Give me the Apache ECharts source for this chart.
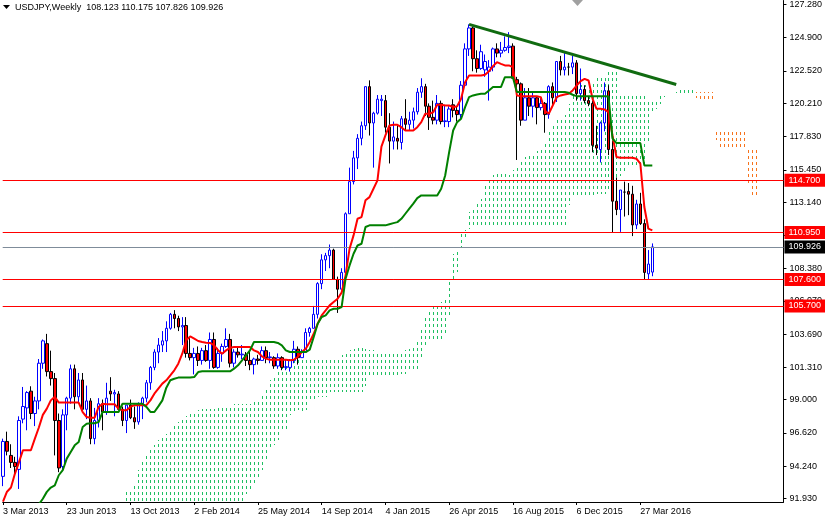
<!DOCTYPE html>
<html><head><meta charset="utf-8">
<script src="https://cdn.jsdelivr.net/npm/echarts@6/dist/echarts.min.js"></script>
<style>html,body{margin:0;padding:0;background:#fff}#c{width:825px;height:519px}</style>
</head><body><div id="c"></div><script>
const symbolTitle = 'USDJPY,Weekly  108.123 110.175 107.826 109.926';
const xTickIdx = [0, 16, 32, 48, 64, 80, 96, 112, 128, 144, 160];
const xTickLabels = ['3 Mar 2013', '23 Jun 2013', '13 Oct 2013', '2 Feb 2014', '25 May 2014', '14 Sep 2014', '4 Jan 2015', '26 Apr 2015', '16 Aug 2015', '6 Dec 2015', '27 Mar 2016'];
const yTicks = [91.93, 94.24, 96.62, 99.00, 101.31, 103.69, 106.07, 108.38, 110.76, 113.14, 115.45, 117.83, 120.21, 122.52, 124.90, 127.28];

// weekly candles, index 0 = week of 3 Mar 2013
const opens = [93.5,96.0,95.0,94.5,94.0,97.6,98.4,99.6,98.0,98.9,
101.6,103.0,101.0,100.5,97.5,94.2,97.9,99.1,101.2,99.2,
100.4,98.3,98.9,96.2,97.5,98.7,98.1,99.6,99.4,99.4,
98.3,97.5,98.6,97.7,97.4,98.7,99.1,100.2,101.3,102.4,
102.9,103.2,104.1,105.1,104.8,104.2,104.3,102.3,102.0,102.3,
101.8,102.5,101.8,103.3,101.3,102.3,102.8,103.3,101.6,102.4,
102.2,102.2,101.8,101.5,101.9,101.8,102.5,102.0,102.0,101.4,
102.0,101.3,101.3,101.8,102.6,102.0,102.4,103.8,104.1,105.1,
107.3,109.0,109.3,109.7,107.6,106.9,108.1,112.3,114.6,116.3,
117.7,118.6,121.4,118.8,119.5,120.4,120.4,118.5,117.5,117.7,
117.4,119.1,118.7,119.0,119.6,121.0,121.4,120.0,119.2,119.0,
120.2,118.9,118.9,120.1,119.7,119.4,121.5,124.1,125.6,123.4,
122.7,122.6,122.5,122.8,124.1,123.8,124.0,124.2,124.3,121.9,
121.6,119.0,120.6,120.0,120.6,119.9,120.2,119.4,121.4,120.6,
123.2,122.6,122.8,122.8,123.1,120.9,121.2,120.4,120.2,117.2,
116.9,118.8,121.1,116.9,113.2,112.6,113.85,113.9,113.7,111.5,
113.0,111.6,108.0,108.123];
const closes = [96.0,95.3,94.5,94.2,97.5,98.5,99.5,98.0,98.9,101.6,
103.2,101.0,100.5,97.5,94.1,97.9,99.1,101.2,99.2,100.4,
98.3,98.9,96.2,97.5,98.7,98.1,99.1,99.4,99.5,98.3,
97.5,98.6,97.7,97.4,98.7,99.1,100.2,101.3,102.4,102.9,
103.2,104.1,105.1,104.8,104.2,104.3,102.3,102.0,102.3,101.8,
102.5,101.8,103.3,101.3,102.3,102.8,103.3,101.6,102.4,102.2,
102.25,101.8,101.5,101.9,101.8,102.5,102.0,102.05,101.4,102.0,
101.3,101.35,101.8,102.6,102.0,102.4,103.8,104.1,105.1,107.3,
109.0,109.3,109.7,107.6,106.9,108.1,112.3,114.6,116.3,117.7,
118.6,121.4,118.8,119.5,120.5,120.5,118.5,117.5,117.8,117.5,
119.1,118.7,119.0,119.6,121.0,121.4,120.0,119.2,119.0,120.2,
118.9,118.95,119.8,119.7,119.4,121.5,124.1,125.6,123.4,122.7,
123.9,123.2,122.8,124.1,123.8,124.0,124.2,124.3,122.0,121.6,
119.0,120.6,120.0,120.6,119.9,120.2,119.4,121.4,120.6,123.2,
122.6,122.8,122.8,123.1,120.9,121.2,120.4,120.2,117.2,117.0,
118.8,121.1,116.9,113.2,112.6,114.0,113.85,113.7,111.5,113.0,
111.6,108.1,108.7,109.926];
const lows = [92.8,95.0,94.1,93.7,92.6,97.3,96.8,97.6,97.1,98.3,
101.2,100.65,100.0,95.0,93.8,93.9,96.8,98.7,98.3,98.8,
98.3,97.6,95.8,95.8,97.0,96.8,97.9,98.9,97.8,98.3,
97.1,96.6,97.6,96.9,97.2,97.6,98.8,99.7,101.1,101.6,
102.4,102.4,104.0,104.1,103.9,102.9,102.0,101.8,100.8,101.4,
101.5,101.7,101.2,101.2,101.2,101.7,102.7,101.3,101.3,102.0,
101.9,101.4,101.1,100.8,101.5,101.8,101.6,101.6,101.2,101.2,
101.1,101.1,101.0,101.6,101.5,102.0,102.4,103.5,104.1,104.8,
106.9,108.2,108.4,107.6,105.2,106.9,107.6,112.3,114.4,115.5,
117.2,118.3,117.9,115.6,119.4,119.3,118.1,115.9,116.9,116.9,
116.9,118.3,118.3,118.4,119.4,120.6,119.3,118.3,118.7,118.7,
118.7,118.5,118.5,119.2,118.9,119.1,121.4,123.6,122.5,122.4,
122.6,122.1,120.4,122.5,123.5,123.5,123.9,123.8,122.0,116.15,
118.6,119.0,119.3,119.2,118.7,119.7,118.1,119.1,120.1,120.3,
122.2,122.2,122.2,122.3,120.4,120.4,120.2,120.0,116.7,116.5,
115.97,118.2,116.5,110.99,112.2,111.0,112.1,112.2,110.7,111.2,
111.5,107.6,107.6,107.826];
const highs = [96.2,96.7,95.8,94.9,97.8,99.9,99.6,99.95,99.2,101.9,
103.3,103.7,102.5,100.9,98.0,98.3,99.2,101.5,101.5,100.9,
100.9,100.0,99.1,98.4,99.1,99.0,100.2,100.6,99.7,99.6,
98.5,98.6,99.0,98.5,98.8,99.2,100.4,101.4,102.6,103.4,
103.9,104.6,105.2,105.4,105.0,104.9,104.9,103.4,102.7,102.8,
102.7,102.9,103.8,103.8,102.7,103.0,104.1,103.7,102.6,102.7,
102.9,102.4,102.4,102.0,102.2,102.8,102.8,102.4,102.1,102.3,
102.1,101.9,101.9,103.2,102.8,102.6,104.1,104.2,105.7,107.4,
109.4,109.5,110.1,109.8,107.8,108.4,112.4,115.6,116.8,118.0,
118.9,121.4,121.85,119.6,120.8,120.8,120.8,119.5,118.9,118.7,
119.3,120.5,119.6,119.9,121.3,122.0,121.6,120.2,120.4,120.8,
120.4,120.1,120.0,120.5,120.0,121.8,124.5,125.86,125.7,124.0,
124.4,123.7,123.3,124.2,124.5,124.6,125.0,125.3,124.5,122.1,
121.7,121.3,121.3,121.0,120.7,120.6,120.3,121.5,121.7,123.2,
123.6,123.8,123.1,123.6,123.3,122.7,121.5,120.7,120.4,118.6,
118.9,121.7,121.5,117.5,114.9,114.0,114.6,114.5,114.3,113.3,
113.8,111.9,109.7,110.175];

const tenkan = [91.7,92.4,92.7,93.7,94.5,95.37,95.37,95.37,96.2,97.0,
97.9,98.35,98.94,99.2,98.78,98.78,98.78,98.78,98.78,98.78,
98.1,97.75,97.7,97.7,98.47,98.7,98.66,98.66,98.66,98.35,
98.23,98.23,98.47,98.6,98.6,98.6,98.6,98.94,99.42,99.78,
100.14,100.38,100.73,101.09,101.57,102.28,103.24,103.52,103.36,103.19,
103.12,103.07,103.05,102.88,102.52,102.28,102.52,102.71,102.76,102.76,
102.76,102.76,102.76,102.52,102.4,102.09,101.93,101.85,101.85,101.85,
101.85,101.85,101.81,101.85,102.05,102.4,102.64,103.12,103.71,104.43,
105.03,105.38,105.74,105.98,106.22,106.65,107.89,109.8,110.75,111.94,
112.06,113.26,113.49,114.09,114.69,117.1,117.91,118.62,118.67,118.67,
118.5,118.26,118.26,118.26,118.5,118.86,119.46,119.46,119.57,120.1,
120.1,120.05,120.05,119.93,120.0,120.53,121.72,122.2,122.2,122.2,
122.2,122.25,122.5,122.87,123.15,123.03,122.92,122.92,122.8,120.77,
120.72,120.72,120.72,120.72,120.72,120.65,119.69,119.46,120.05,120.65,
120.77,120.84,120.89,121.13,121.48,121.79,121.96,121.84,120.53,119.81,
119.81,119.77,119.58,117.91,116.36,116.31,116.31,116.31,116.31,116.24,
115.88,112.78,111.23,111.11];
const kijun = [88.6,88.8,89.0,89.3,89.6,90.0,90.4,90.8,91.2,91.5,
91.9,92.39,92.7,92.86,93.58,93.94,94.77,95.25,95.72,95.96,
97.04,97.27,97.3,97.3,97.39,98.11,98.11,98.11,98.11,98.11,
98.7,98.7,98.7,98.7,98.7,98.7,98.47,98.11,98.11,98.51,
98.94,99.85,100.38,100.49,100.57,100.57,100.57,100.57,100.61,100.97,
101.02,101.02,101.02,101.02,101.02,101.02,101.02,101.02,101.21,101.45,
101.81,102.16,102.52,103.12,103.12,103.12,103.12,103.12,103.12,103.05,
102.88,102.52,102.4,102.4,102.4,102.4,102.4,102.57,103.48,104.43,
104.91,105.03,105.38,105.5,105.5,105.62,107.65,108.6,109.44,110.03,
110.15,111.35,111.47,111.47,111.47,111.47,111.47,111.55,111.63,111.7,
111.94,112.3,112.66,113.02,113.42,113.61,113.61,113.61,113.61,113.61,
114.09,115.04,116.71,118.26,118.86,119.1,119.93,120.65,120.77,120.84,
120.89,120.89,121.13,121.37,121.37,121.37,122.08,122.08,122.08,121.01,
121.01,121.01,121.01,121.01,121.01,121.01,121.01,121.01,121.01,121.01,
121.01,121.01,120.96,120.82,120.72,120.72,120.72,120.72,120.72,120.72,
120.72,120.72,120.7,117.7,117.36,117.36,117.36,117.36,117.36,117.36,
117.36,115.76,115.76,115.76];

// Ichimoku cloud (already shifted forward), first column at week index 31
const cloudStart = 31;
const spanA = [92.39,92.62,92.86,93.94,94.65,95.13,95.37,95.72,96.08,
96.32,96.56,96.8,97.16,97.39,97.56,97.8,98.11,98.2,98.25,
98.3,98.3,98.35,98.35,98.4,98.45,98.5,98.6,98.66,98.66,
98.66,98.66,98.66,98.82,98.99,99.42,99.78,100.42,100.73,101.04,
101.28,101.52,101.62,101.75,101.85,102.0,102.05,102.05,102.0,101.93,
101.88,101.85,101.85,101.93,102.05,102.16,102.35,102.52,102.64,102.76,
102.74,102.64,102.52,102.52,102.45,102.4,102.38,102.28,102.28,102.28,
102.35,102.52,102.64,102.88,103.24,104.19,105.03,105.39,105.62,105.79,
105.98,106.1,107.65,109.44,109.8,110.99,111.11,112.42,112.55,113.0,
113.38,114.33,114.69,115.04,115.12,115.16,115.28,115.04,115.4,115.76,
116.24,116.36,116.55,116.59,116.78,117.07,117.43,118.26,118.74,119.1,
119.22,119.34,120.17,120.77,121.5,121.5,121.55,121.6,121.8,122.1,
122.25,122.2,122.5,122.5,122.45,120.9,120.86,120.86,120.86,120.86,
120.86,120.83,120.4,120.3,120.5,120.85,120.9,120.92,120.95,121.05,
121.2,121.35,121.4,121.3,120.6,120.3,120.3,120.3,120.3,117.6,
116.9,116.9,116.9,116.9,116.85,116.85,116.85,114.3,113.6,113.6];
const spanB = [87.0,87.2,87.4,87.6,87.8,88.0,88.2,88.4,88.6,
88.8,89.0,89.2,89.4,89.6,89.8,90.0,90.1,90.2,90.3,
90.4,90.5,90.6,90.7,90.8,90.9,91.0,91.1,91.2,91.3,
91.5,92.27,92.46,92.79,93.34,93.93,94.65,95.49,95.72,96.08,
96.68,96.92,97.87,98.11,98.23,98.11,98.23,99.06,99.06,99.18,
99.18,99.2,99.54,99.54,99.54,99.54,99.54,99.54,99.54,99.54,
99.54,100.0,100.6,100.6,100.6,100.6,100.6,100.73,100.73,100.73,
100.85,100.85,100.97,101.09,101.09,101.93,102.88,103.24,103.24,103.36,
103.36,103.59,105.03,107.41,108.13,109.9,110.4,111.2,111.35,111.35,
111.35,111.35,111.35,111.35,111.35,111.35,111.35,111.35,111.35,111.35,
111.35,111.35,111.35,111.35,111.35,111.35,111.35,111.35,111.35,111.46,
111.46,111.46,112.9,113.45,113.5,113.5,113.5,113.5,113.5,113.7,
113.7,113.7,114.0,114.2,114.7,115.0,115.3,115.55,115.55,115.55,
115.55,115.55,117.3,119.46,119.81,120.17,120.65,120.75,120.75,120.75,
120.75,120.75,120.75,120.75,121.0,121.0,121.0,121.0,121.0,118.4,
118.4,118.4,118.4,118.4,118.26,118.26,118.26,116.83,116.83,116.83];

const trendIdx = [117, 169];
const trendVal = [125.86, 121.55];
const redLevels = [114.70, 110.95, 107.60, 105.70];
const lastPrice = 109.926;

const FONT = 'Liberation Sans';
const GREEN_CLOUD = '#1fbf62';
const ORANGE_CLOUD = '#f7731c';

const candleData = opens.map((o, i) => [i, o, closes[i], lows[i], highs[i]]);
const tenkanData = tenkan.map((v, i) => [i, v]);
const kijunData = kijun.map((v, i) => [i, v]);
const cloudData = spanA.map((a, k) => [cloudStart + k, a, spanB[k]]);
const trendData = trendIdx.map((x, k) => [x, trendVal[k]]);

// each cloud column: short vertical dashes between span A and span B
function renderCloud(params, api) {
  const i = api.value(0), a = api.value(1), b = api.value(2);
  const p1 = api.coord([i, a]);
  const p2 = api.coord([i, b]);
  const x = Math.round(p1[0]);
  const yTop = Math.round(Math.min(p1[1], p2[1]));
  const yBot = Math.round(Math.max(p1[1], p2[1]));
  const fill = a >= b ? GREEN_CLOUD : ORANGE_CLOUD;
  const children = [];
  for (let y = yTop - (yTop % 6); y < yBot; y += 6) {
    const y0 = Math.max(y, yTop), y1 = Math.min(y + 3, yBot);
    if (y1 > y0) {
      children.push({ type: 'rect', shape: { x: x, y: y0, width: 1, height: y1 - y0 }, style: { fill: fill }, silent: true });
    }
  }
  return { type: 'group', children: children, silent: true };
}

const levelLines = redLevels.map(v => ({
  yAxis: v,
  lineStyle: { color: '#ff0000', width: 1, type: 'solid' },
  label: { backgroundColor: '#ff0000' }
}));
levelLines.push({
  yAxis: lastPrice,
  lineStyle: { color: '#7f8c9a', width: 1, type: 'solid' },
  label: { backgroundColor: '#000000' }
});

const chart = echarts.init(document.getElementById('c'), null, { renderer: 'canvas' });
chart.setOption({
  animation: false,
  backgroundColor: '#ffffff',
  textStyle: { fontFamily: FONT },
  tooltip: { show: false },
  title: {
    text: symbolTitle, left: 15, top: 3, padding: 0,
    textStyle: { fontSize: 9, fontWeight: 'normal', color: '#000', fontFamily: FONT }
  },
  grid: { left: 0, right: 41, top: 0, bottom: 17, containLabel: false },
  xAxis: {
    type: 'value', min: -0.075, max: 195.925,
    axisLine: { show: true, onZero: false, lineStyle: { color: '#000', width: 1 } },
    axisTick: { show: true, customValues: xTickIdx, length: 3, lineStyle: { color: '#000' } },
    axisLabel: {
      show: true, customValues: xTickIdx,
      formatter: v => xTickLabels[xTickIdx.indexOf(v)] || '',
      align: 'left', margin: 5, fontSize: 9, color: '#000', fontFamily: FONT
    },
    splitLine: { show: false }
  },
  yAxis: {
    type: 'value', position: 'right', min: 91.665, max: 127.566,
    axisLine: { show: true, onZero: false, lineStyle: { color: '#000', width: 1 } },
    axisTick: { show: true, customValues: yTicks, length: 3, lineStyle: { color: '#000' } },
    axisLabel: {
      show: true, customValues: yTicks, formatter: v => v.toFixed(3),
      margin: 6, fontSize: 9, color: '#000', fontFamily: FONT
    },
    splitLine: { show: false }
  },
  graphic: [
    { type: 'polygon', shape: { points: [[3, 5], [10, 5], [6.5, 9]] }, style: { fill: '#000' }, silent: true },
    { type: 'polygon', shape: { points: [[572, 0], [583, 0], [577.5, 6]] }, style: { fill: '#a0a0a0' }, silent: true }
  ],
  series: [
    {
      type: 'custom', name: 'cloud', renderItem: renderCloud, data: cloudData,
      encode: { x: 0, y: [1, 2] }, clip: true, z: 1, silent: true
    },
    {
      type: 'candlestick', name: 'USDJPY', data: candleData,
      encode: { x: 0, y: [1, 2, 3, 4] }, barWidth: 3, z: 3, silent: true,
      itemStyle: {
        color: '#ffffff', color0: '#ff0000',
        borderColor: '#0000ff', borderColor0: '#000000', borderColorDoji: '#000000',
        borderWidth: 1
      },
      markLine: {
        silent: true, symbol: ['none', 'none'], animation: false, precision: 3,
        label: {
          show: true, position: 'end', distance: 1,
          formatter: p => Number(p.value).toFixed(3),
          color: '#ffffff', fontSize: 9, fontFamily: FONT,
          padding: [2, 5, 1, 4], lineHeight: 10
        },
        data: levelLines
      }
    },
    {
      type: 'line', name: 'Tenkan', data: tenkanData, symbol: 'none', z: 7, silent: true,
      lineStyle: { color: '#ff0000', width: 2 }
    },
    {
      type: 'line', name: 'Kijun', data: kijunData, symbol: 'none', z: 7, silent: true,
      lineStyle: { color: '#008000', width: 2 }
    },
    {
      type: 'line', name: 'Trend', data: trendData, symbol: 'none', z: 8, silent: true,
      lineStyle: { color: '#106b10', width: 3 }
    }
  ]
});
</script></body></html>
